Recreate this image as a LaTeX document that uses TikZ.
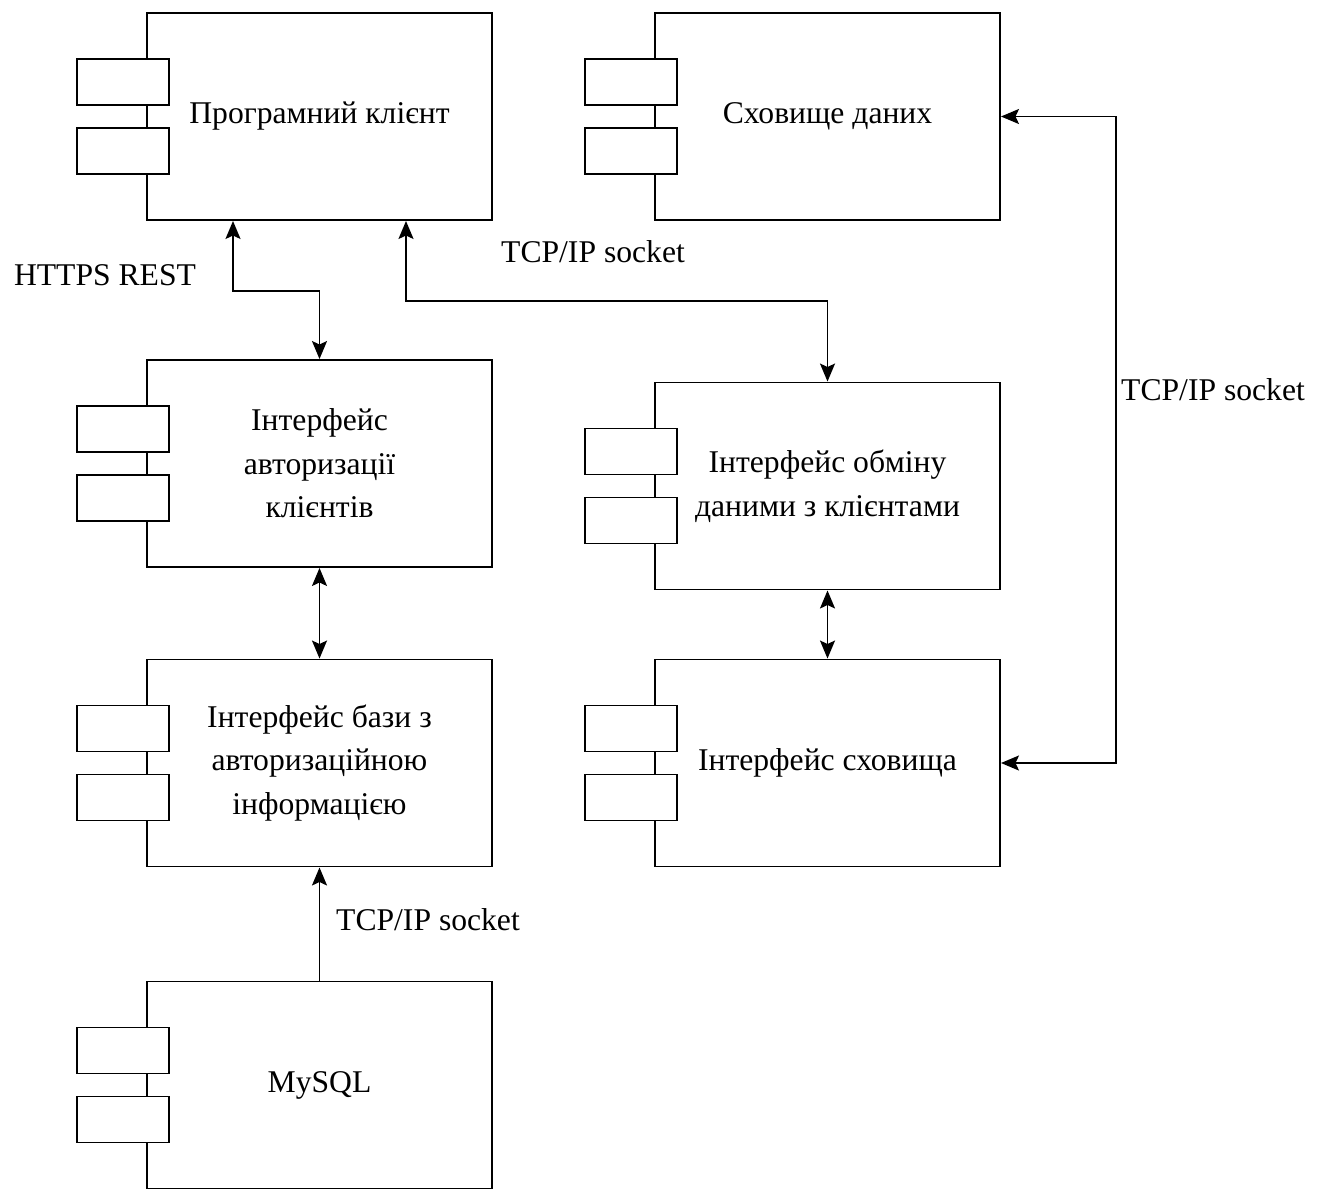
\documentclass[tikz,border=0pt]{standalone}
\usepackage{fontspec}
\setmainfont{Liberation Serif}
\usetikzlibrary{positioning,arrows.meta,calc}

\begin{document}
\begin{tikzpicture}[
    font=\fontsize{18}{24.8}\selectfont,
    comp/.style={draw,line width=1.1pt,minimum width=6.9cm,minimum height=4.14cm,inner sep=0pt,align=center},
    port/.style={draw,line width=1.1pt,fill=white,minimum width=1.84cm,minimum height=0.92cm,inner sep=0pt},
    lbl/.style={inner sep=0pt},
    conn/.style={line width=1.1pt,>={Stealth[length=0.36cm,width=0.3cm,inset=0.07cm]}}]
    \useasboundingbox (0,0) rectangle (26.5,-23.78);
    % Komponenty
    \node[comp] (klient) at (6.39,-2.33) {Програмний клієнт};
    \node[comp] (skhovyshche) at (16.55,-2.33) {Сховище даних};
    \node[comp] (avtoryz) at (6.39,-9.27) {Інтерфейс\\авторизації\\клієнтів};
    \node[comp] (obmin) at (16.55,-9.72) {Інтерфейс обміну\\даними з клієнтами};
    \node[comp] (baza) at (6.39,-15.26) {Інтерфейс бази з\\авторизаційною\\інформацією};
    \node[comp] (skhovint) at (16.55,-15.26) {Інтерфейс сховища};
    \node[comp] (mysql) at (6.39,-21.7) {MySQL};
    \foreach \n in {klient,skhovyshche,avtoryz,obmin,baza,skhovint,mysql} {
        \node[port] (\n-p1) at ([xshift=-0.46cm,yshift=0.69cm]\n.west) {};
        \node[port] (\n-p2) at ([xshift=-0.46cm,yshift=-0.69cm]\n.west) {};
    }

    \draw[conn,<->] ([xshift=-1.73cm]klient.south) -- ++(0,-1.4) -| (avtoryz.north);
    \draw[conn,<->] ([xshift=1.73cm]klient.south) -- ++(0,-1.6) -| (obmin.north);
    \draw[conn,<->] (avtoryz.south) -- (baza.north);
    \draw[conn,<->] (obmin.south) -- (skhovint.north);
    \draw[conn,<->] (skhovyshche.east) -- ++(2.3,0) |- (skhovint.east);
    \draw[conn,->] (mysql.north) -- (baza.south);

    \node[lbl] (https) at (2.1,-5.5) {HTTPS REST};
    \node[lbl] (tcp1) at (11.86,-5.04) {TCP/IP socket};
    \node[lbl] (tcp2) at (24.26,-7.8) {TCP/IP socket};
    \node[lbl] (tcp3) at (8.56,-18.4) {TCP/IP socket};
\end{tikzpicture}
\end{document}
